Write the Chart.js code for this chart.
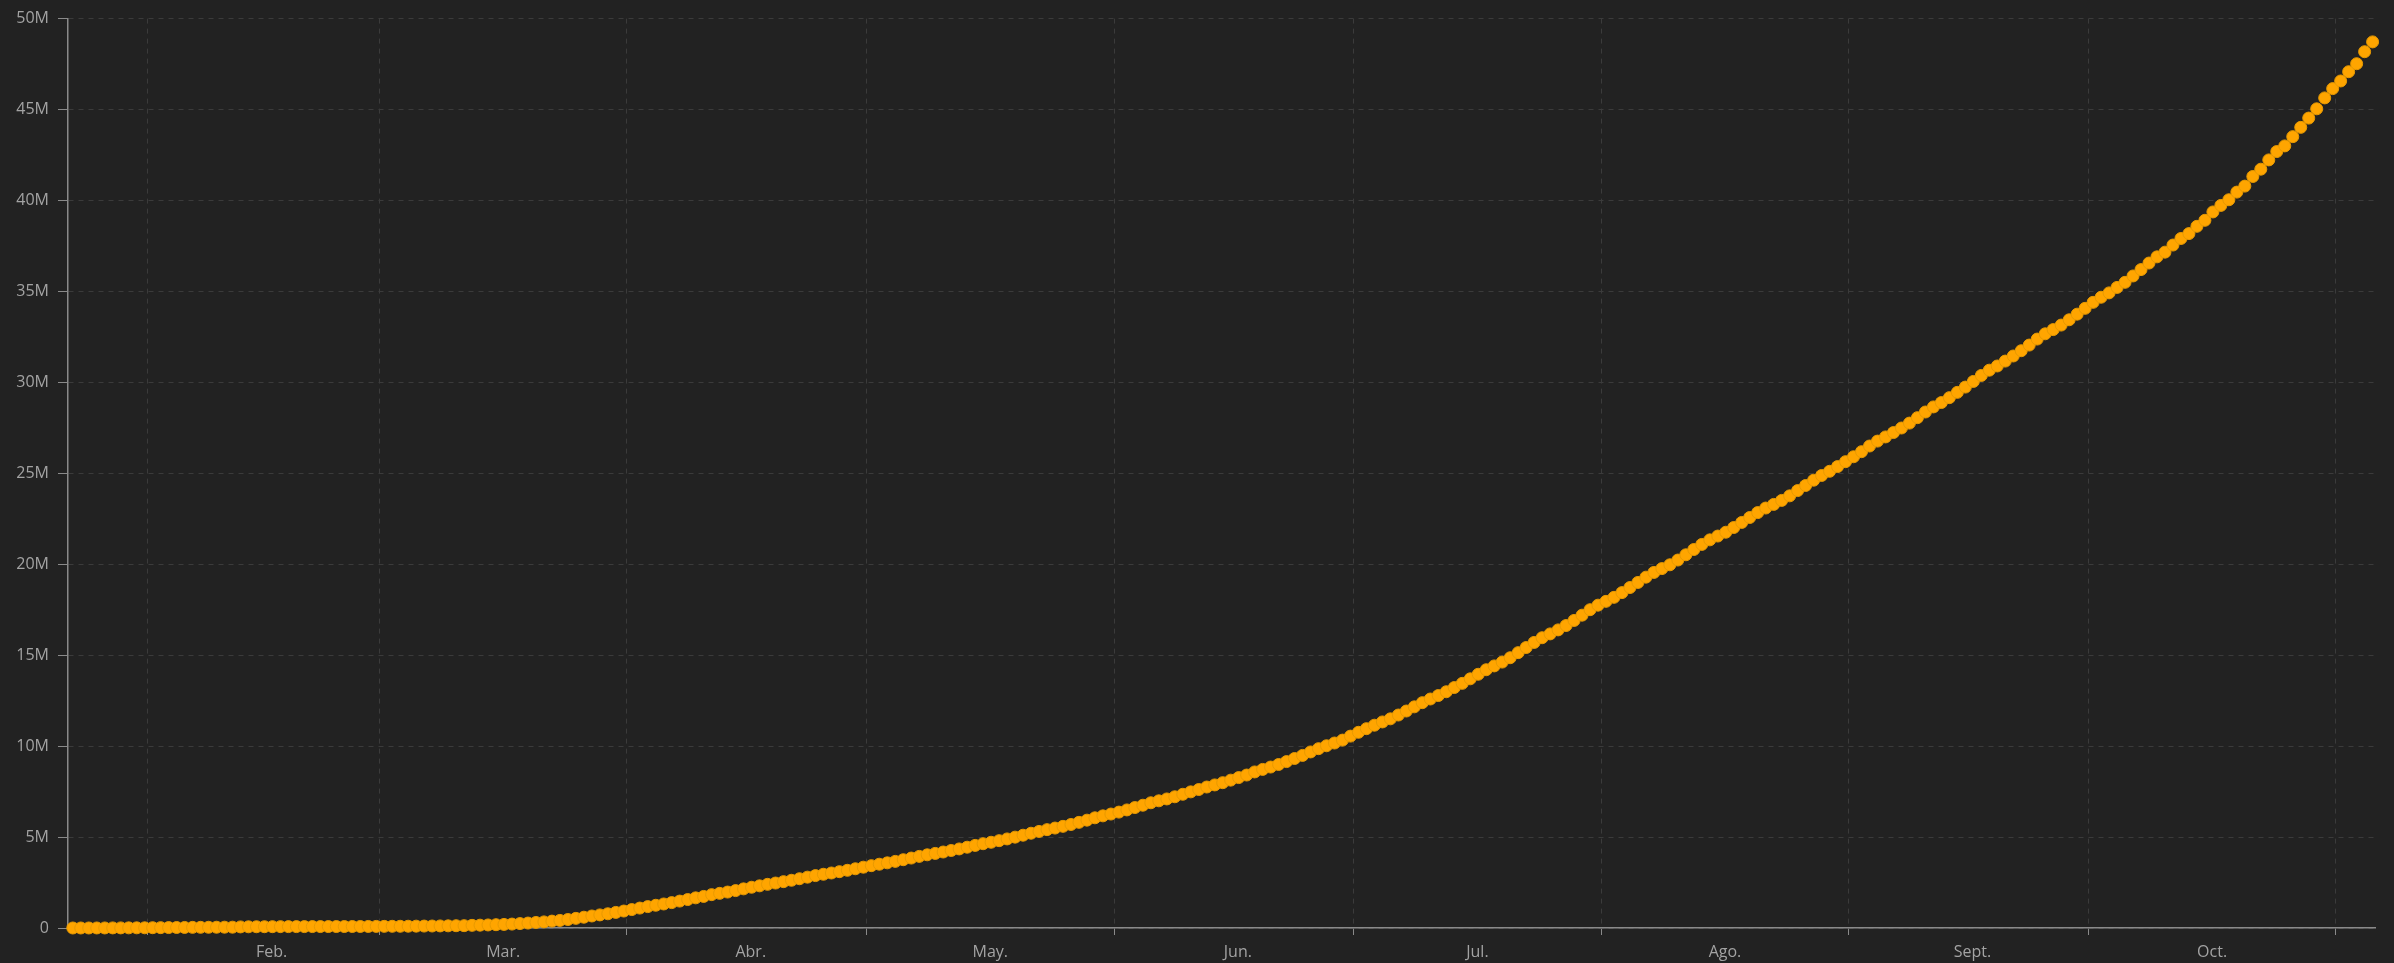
<!DOCTYPE html>
<html lang="es">
<head>
    <meta charset="UTF-8">
    <title>Casos acumulados</title>
    <script src="https://cdn.jsdelivr.net/npm/chart.js"></script>
    <style>
        * {
            padding: 0;
            margin: 0;
        }
        body {
            background-color: #222222;
        }
        .chart-container {
            position: relative;
            width: 2394px;
            height: 963px;
        }
    </style>
</head>
<body>
    <div class="chart-container">
        <canvas id="myChart"></canvas>
    </div>
    <script>
        // cumulative cases in thousands, one value per day starting 22 Jan
        const jan = [0.7, 0.9, 1.4, 2.1, 2.9, 5.6, 6.2, 8.2, 9.9, 12.0];
        const feb = [16.8, 19.9, 23.9, 27.6, 30.8, 34.4, 37.1, 40.2, 42.8, 44.8, 45.2, 60.4, 66.9, 69.1, 71.2,
                     73.3, 75.2, 75.7, 76.2, 76.8, 78.6, 79.0, 79.5, 80.4, 81.4, 82.7, 84.1, 86.0, 88.4];
        const mar = [90.3, 92.8, 95.1, 97.9, 101.8, 105.8, 109.8, 113.6, 118.6, 125.9, 128.3, 145.2, 156.1, 167.4, 181.5,
                     197.1, 214.9, 242.7, 272.2, 304.5, 336.0, 378.2, 418.0, 467.7, 529.6, 593.3, 660.7, 720.1, 782.4, 857.5, 932.6];
        const apr = [1013, 1096, 1176, 1250, 1321, 1396, 1480, 1565, 1658, 1736, 1835, 1905, 1976, 2056, 2152,
                     2240, 2318, 2401, 2472, 2549, 2624, 2709, 2796, 2881, 2955, 3024, 3097, 3172, 3257, 3344];
        const may = [3428, 3507, 3583, 3663, 3755, 3846, 3938, 4024, 4102, 4178, 4262, 4347, 4442, 4542, 4634,
                     4714, 4802, 4897, 4996, 5102, 5211, 5310, 5408, 5495, 5590, 5692, 5809, 5930, 6059, 6166, 6266];
        const jun = [6372, 6492, 6622, 6750, 6885, 6993, 7096, 7215, 7352, 7485, 7614, 7751, 7866, 7990, 8130,
                     8270, 8410, 8580, 8720, 8850, 8990, 9150, 9320, 9490, 9680, 9860, 10020, 10170, 10330, 10550];
        const jul = [10760, 10960, 11150, 11330, 11500, 11710, 11930, 12160, 12390, 12590, 12780, 12990, 13220, 13450, 13700,
                     13950, 14200, 14410, 14620, 14860, 15140, 15420, 15700, 15960, 16170, 16390, 16630, 16910, 17200, 17500, 17750];
        const aug = [17960, 18180, 18440, 18720, 19000, 19290, 19550, 19760, 19970, 20230, 20520, 20810, 21090, 21340, 21550,
                     21760, 22020, 22300, 22570, 22840, 23090, 23290, 23510, 23760, 24050, 24330, 24620, 24880, 25110, 25370, 25640];
        const sep = [25910, 26190, 26500, 26770, 27000, 27240, 27490, 27760, 28060, 28370, 28650, 28890, 29160, 29450, 29740,
                     30050, 30380, 30670, 30900, 31170, 31450, 31740, 32050, 32380, 32670, 32900, 33150, 33440, 33750, 34070];
        const oct = [34400, 34680, 34920, 35220, 35500, 35850, 36200, 36560, 36900, 37160, 37550, 37910, 38180, 38580, 38910,
                     39370, 39730, 40040, 40460, 40790, 41320, 41720, 42230, 42690, 43000, 43510, 44020, 44530, 45040, 45640, 46150];
        const nov = [46570, 47080, 47520, 48180, 48720];

        const monthLabels = ['Feb.', 'Mar.', 'Abr.', 'May.', 'Jun.', 'Jul.', 'Ago.', 'Sept.', 'Oct.'];
        const yTickLabels = ['0', '5M', '10M', '15M', '20M', '25M', '30M', '35M', '40M', '45M', '50M'];

        const values = [].concat(jan, feb, mar, apr, may, jun, jul, aug, sep, oct, nov);
        const fullMonths = [feb, mar, apr, may, jun, jul, aug, sep, oct, nov];

        // points are reported a bit after midnight
        const dayOffset = 0.6;

        // month boundaries (grid) and month middles (labels)
        const boundaries = [];
        const labelPos = [];
        let start = jan.length;
        fullMonths.forEach((m, i) => {
            boundaries.push(start - dayOffset);
            if (i < monthLabels.length) labelPos.push(start + 15.5 - dayOffset);
            start += m.length;
        });

        const points = values.map((v, i) => ({ x: i, y: v }));

        Chart.defaults.font.family = "'Open Sans', sans-serif";
        Chart.defaults.font.size = 16;
        Chart.defaults.color = '#a3a3a3';

        const gridColor = '#3b3b3b';
        const axisColor = '#8a8a8a';

        const ctx = document.getElementById('myChart').getContext('2d');
        new Chart(ctx, {
            type: 'scatter',
            data: {
                datasets: [{
                    data: points,
                    backgroundColor: '#ffa500',
                    borderColor: '#e89a00',
                    borderWidth: 1,
                    pointRadius: 6,
                    pointHoverRadius: 6,
                    showLine: false,
                    clip: false
                }]
            },
            options: {
                responsive: true,
                maintainAspectRatio: false,
                animation: false,
                layout: {
                    padding: { top: 14, right: 19, left: 0, bottom: 0 }
                },
                plugins: {
                    legend: { display: false },
                    tooltip: { enabled: false }
                },
                scales: {
                    x: {
                        type: 'linear',
                        min: -dayOffset,
                        max: values.length - 1 + 0.3,
                        afterFit: function(scale) { scale.height = 35; },
                        afterBuildTicks: function(scale) {
                            scale.ticks = boundaries.map(v => ({ value: v }))
                                .concat(labelPos.map(v => ({ value: v })));
                        },
                        grid: {
                            color: c => c.index < boundaries.length ? gridColor : 'transparent',
                            tickColor: c => c.index < boundaries.length ? axisColor : 'transparent',
                            tickLength: 7,
                            lineWidth: 1
                        },
                        border: {
                            color: axisColor,
                            width: 1.5,
                            dash: [5, 5]
                        },
                        ticks: {
                            autoSkip: false,
                            maxRotation: 0,
                            minRotation: 0,
                            padding: 8,
                            callback: function(value, index) {
                                return index < boundaries.length ? '' : monthLabels[index - boundaries.length];
                            }
                        }
                    },
                    y: {
                        min: 0,
                        max: 50000,
                        afterFit: function(scale) { scale.width = 68; },
                        grid: {
                            color: gridColor,
                            tickColor: axisColor,
                            tickLength: 10,
                            lineWidth: 1
                        },
                        border: {
                            color: axisColor,
                            width: 1.5,
                            dash: [5, 5]
                        },
                        ticks: {
                            stepSize: 5000,
                            padding: 9,
                            callback: function(value) {
                                return yTickLabels[Math.round(value / 5000)];
                            }
                        }
                    }
                }
            }
        });
    </script>
</body>
</html>
